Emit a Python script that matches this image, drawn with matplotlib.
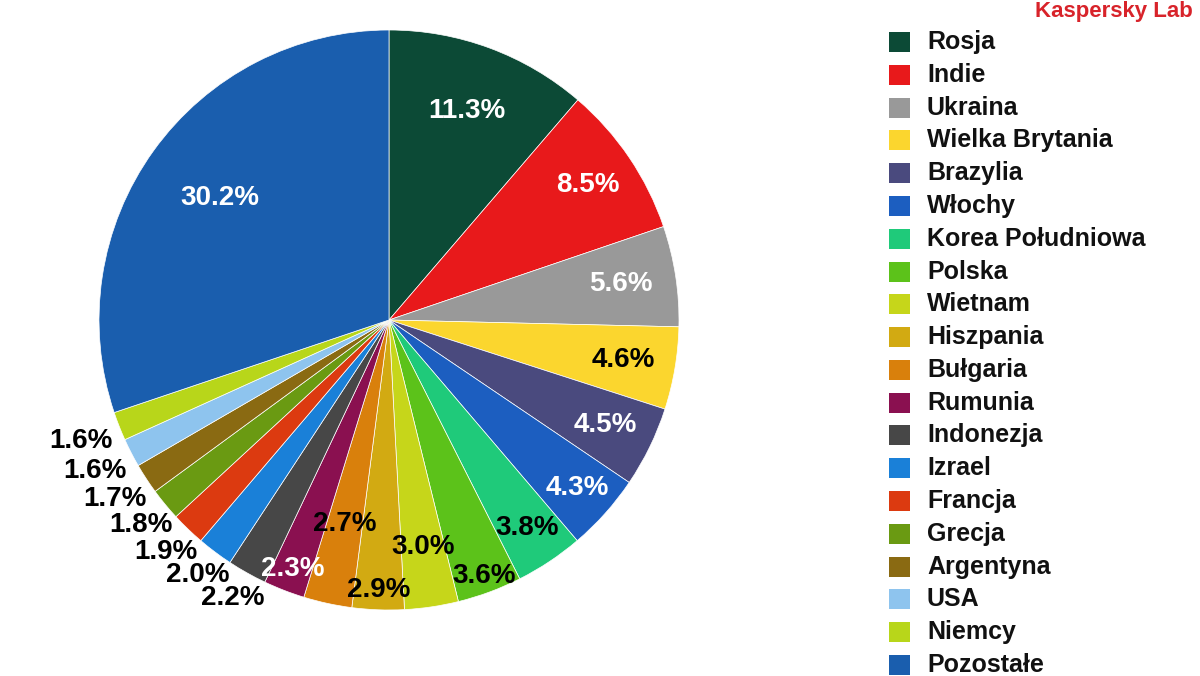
import matplotlib
matplotlib.use("Agg")
import matplotlib.pyplot as plt
import numpy as np
from matplotlib.patches import Rectangle

plt.rcParams['font.family'] = ['Liberation Sans', 'DejaVu Sans']

countries = ["Rosja", "Indie", "Ukraina", "Wielka Brytania", "Brazylia", "Włochy",
             "Korea Południowa", "Polska", "Wietnam", "Hiszpania", "Bułgaria", "Rumunia",
             "Indonezja", "Izrael", "Francja", "Grecja", "Argentyna", "USA", "Niemcy",
             "Pozostałe"]
shares = [11.3, 8.5, 5.6, 4.6, 4.5, 4.3, 3.8, 3.6, 3.0, 2.9, 2.7, 2.3, 2.2, 2.0,
          1.9, 1.8, 1.7, 1.6, 1.6, 30.2]
labels = ["11.3%", "8.5%", "5.6%", "4.6%", "4.5%", "4.3%", "3.8%", "3.6%", "3.0%",
          "2.9%", "2.7%", "2.3%", "2.2%", "2.0%", "1.9%", "1.8%", "1.7%", "1.6%",
          "1.6%", "30.2%"]

colors = ["#0c4a36", "#e8191b", "#999999", "#fbd62e", "#4a4a7e", "#1c5ec0",
          "#1fca7a", "#5cc21a", "#c6d61a", "#d2aa12", "#d9800c", "#8a1050",
          "#474747", "#1a80d8", "#dc3a10", "#6a9a12", "#8a6a12", "#8ec4ee",
          "#b8d61a", "#1a5eae"]
label_colors = ["white", "white", "white", "black", "white", "white", "black",
                "black", "black", "black", "black", "white", "black", "black",
                "black", "black", "black", "black", "black", "white"]
label_r = [0.77, 0.83, 0.81, 0.82, 0.83, 0.87, 0.86, 0.94, 0.79, 0.93, 0.72,
           0.92, 1.10, 1.10, 1.11, 1.11, 1.13, 1.14, 1.14, 0.72]

W, H = 1200, 676
fig = plt.figure(figsize=(W / 100, H / 100), dpi=100)
fig.patch.set_facecolor("white")

cx, cy, R = 389, 320, 290
ax = fig.add_axes([(cx - R) / W, (H - cy - R) / H, 2 * R / W, 2 * R / H])
wedges, _ = ax.pie(shares, colors=colors, startangle=90, counterclock=False,
                   radius=1.0, wedgeprops=dict(edgecolor="white", linewidth=0.5))
ax.set_xlim(-1, 1)
ax.set_ylim(-1, 1)
ax.set_aspect("equal")
ax.axis("off")

for w, lab, lc, rf in zip(wedges, labels, label_colors, label_r):
    ang = np.deg2rad((w.theta1 + w.theta2) / 2)
    ax.text(rf * np.cos(ang), rf * np.sin(ang), lab, color=lc, fontsize=20,
            fontweight="bold", ha="center", va="center", clip_on=False)

# Legend
x_sq, x_txt = 889, 927
y0, dy = 42, (665 - 42) / 19
for i, (name, col) in enumerate(zip(countries, colors)):
    yc = y0 + i * dy
    fig.patches.append(Rectangle((x_sq / W, 1 - (yc + 10) / H), 21 / W, 20 / H,
                                 transform=fig.transFigure, facecolor=col,
                                 edgecolor="none"))
    fig.text(x_txt / W, 1 - yc / H, name, fontsize=18, fontweight="bold",
             ha="left", va="center", color="#111111")

fig.text(1114 / W, 1 - 1 / H, "Kaspersky Lab", color="#d8232a", fontsize=16,
         fontweight="bold", ha="center", va="top")

fig.savefig("out.png", dpi=100)
